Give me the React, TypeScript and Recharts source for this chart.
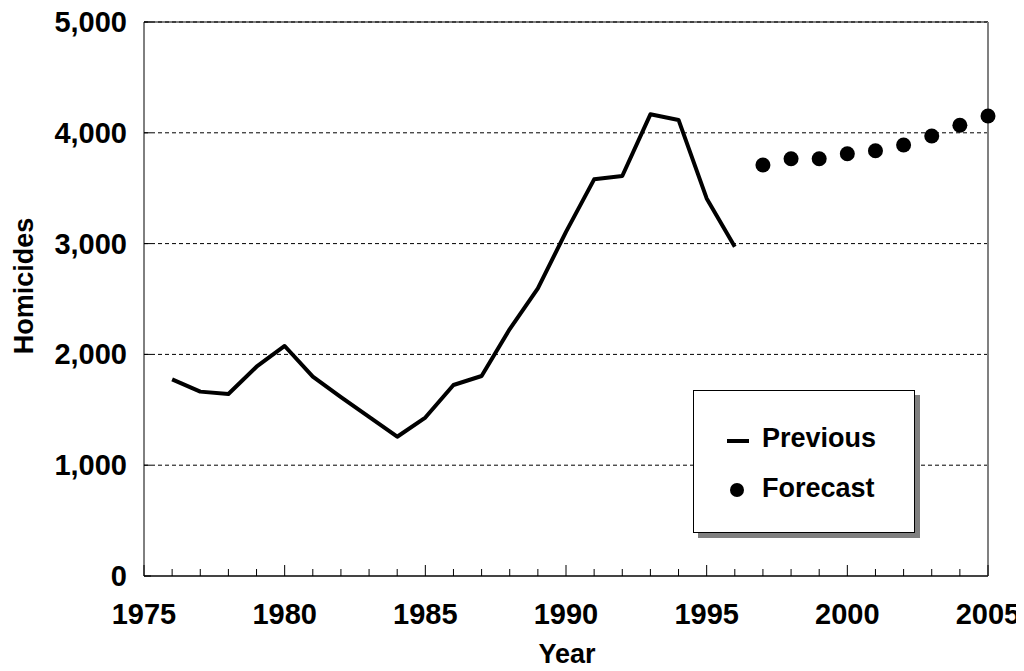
import { CartesianGrid, Line, LineChart, ReferenceLine, XAxis, YAxis } from "recharts";

const FONT = '"Liberation Sans", Arial, Helvetica, sans-serif';

const previousYears = [
  1976, 1977, 1978, 1979, 1980, 1981, 1982, 1983, 1984, 1985, 1986, 1987, 1988, 1989, 1990, 1991, 1992,
  1993, 1994, 1995, 1996,
];
const previousValues = [
  1775, 1664, 1643, 1889, 2076, 1799, 1614, 1437, 1257, 1430, 1724, 1805, 2229, 2596, 3106, 3580, 3610,
  4167, 4116, 3408, 2972,
];

const forecastYears = [1997, 1998, 1999, 2000, 2001, 2002, 2003, 2004, 2005];
const forecastValues = [3709, 3766, 3766, 3811, 3838, 3890, 3971, 4068, 4152];

const yearTicks = [
  1975, 1976, 1977, 1978, 1979, 1980, 1981, 1982, 1983, 1984, 1985, 1986, 1987, 1988, 1989, 1990, 1991,
  1992, 1993, 1994, 1995, 1996, 1997, 1998, 1999, 2000, 2001, 2002, 2003, 2004, 2005,
];
const labeledYears = [1975, 1980, 1985, 1990, 1995, 2000, 2005];
const countTicks = [0, 1000, 2000, 3000, 4000, 5000];

const chartData = [
  ...previousYears.map((year, i) => ({ year, previous: previousValues[i] })),
  ...forecastYears.map((year, i) => ({ year, forecast: forecastValues[i] })),
];

function YearTick(props: any) {
  const { x, y, payload } = props;
  const major = labeledYears.includes(payload.value);
  return (
    <g>
      <line x1={x} x2={x} y1={y} y2={y - (major ? 11 : 7)} stroke="#000" strokeWidth={1} />
      {major && (
        <text x={x} y={y + 48} textAnchor="middle" fontSize={29} fontWeight="bold" fontFamily={FONT} fill="#000">
          {payload.value}
        </text>
      )}
    </g>
  );
}

function CountTick(props: any) {
  const { x, y, payload } = props;
  return (
    <g>
      <line x1={x} x2={x + 7} y1={y} y2={y} stroke="#000" strokeWidth={1} />
      <text x={x - 17} y={y + 10} textAnchor="end" fontSize={29} fontWeight="bold" fontFamily={FONT} fill="#000">
        {Number(payload.value).toLocaleString("en-US")}
      </text>
    </g>
  );
}

function ChartLegend() {
  return (
    <div
      style={{
        position: "absolute",
        left: 693,
        top: 390,
        width: 222,
        height: 143,
        boxSizing: "border-box",
        border: "1.5px solid #000",
        background: "#fff",
        boxShadow: "5px 5px 0 #808080",
      }}
    >
      <svg width={220} height={140} style={{ display: "block" }}>
        <line x1={33} x2={55} y1={50} y2={50} stroke="#000" strokeWidth={4} />
        <text x={68} y={56} fontSize={27} fontWeight="bold" fontFamily={FONT} fill="#000">
          Previous
        </text>
        <circle cx={43} cy={99} r={7} fill="#000" />
        <text x={68} y={106} fontSize={27} fontWeight="bold" fontFamily={FONT} fill="#000">
          Forecast
        </text>
      </svg>
    </div>
  );
}

export default function App() {
  return (
    <div style={{ position: "relative", width: 1024, height: 671, margin: -8, fontFamily: FONT }}>
      <LineChart
        width={1024}
        height={671}
        data={chartData}
        margin={{ top: 22, right: 36, left: 0, bottom: 0 }}
        style={{ overflow: "visible" }}
      >
        <CartesianGrid vertical={false} stroke="#000" strokeWidth={1} strokeDasharray="4 3" />
        <ReferenceLine y={5000} stroke="#000" strokeWidth={1} />
        <ReferenceLine x={2005} stroke="#808080" strokeWidth={2} />
        <XAxis
          dataKey="year"
          type="number"
          domain={[1975, 2005]}
          ticks={yearTicks}
          interval={0}
          height={95}
          tickSize={0}
          tickMargin={0}
          tickLine={false}
          tick={<YearTick />}
          axisLine={{ stroke: "#444", strokeWidth: 2 }}
          label={{
            content: () => (
              <text x={567} y={663} textAnchor="middle" fontSize={27} fontWeight="bold" fontFamily={FONT} fill="#000">
                Year
              </text>
            ),
          }}
        />
        <YAxis
          type="number"
          domain={[0, 5000]}
          ticks={countTicks}
          interval={0}
          width={144}
          tickSize={0}
          tickMargin={0}
          tickLine={false}
          tick={<CountTick />}
          axisLine={{ stroke: "#000", strokeWidth: 1 }}
          label={{
            content: () => (
              <text
                x={33}
                y={286}
                transform="rotate(-90, 33, 286)"
                textAnchor="middle"
                fontSize={27}
                fontWeight="bold"
                fontFamily={FONT}
                fill="#000"
              >
                Homicides
              </text>
            ),
          }}
        />
        <Line
          type="linear"
          dataKey="previous"
          stroke="#000"
          strokeWidth={4}
          strokeLinejoin="round"
          dot={false}
          activeDot={false}
          isAnimationActive={false}
        />
        <Line
          type="linear"
          dataKey="forecast"
          stroke="none"
          dot={{ r: 7.5, fill: "#000", stroke: "none" }}
          activeDot={false}
          isAnimationActive={false}
        />
      </LineChart>
      <ChartLegend />
    </div>
  );
}
